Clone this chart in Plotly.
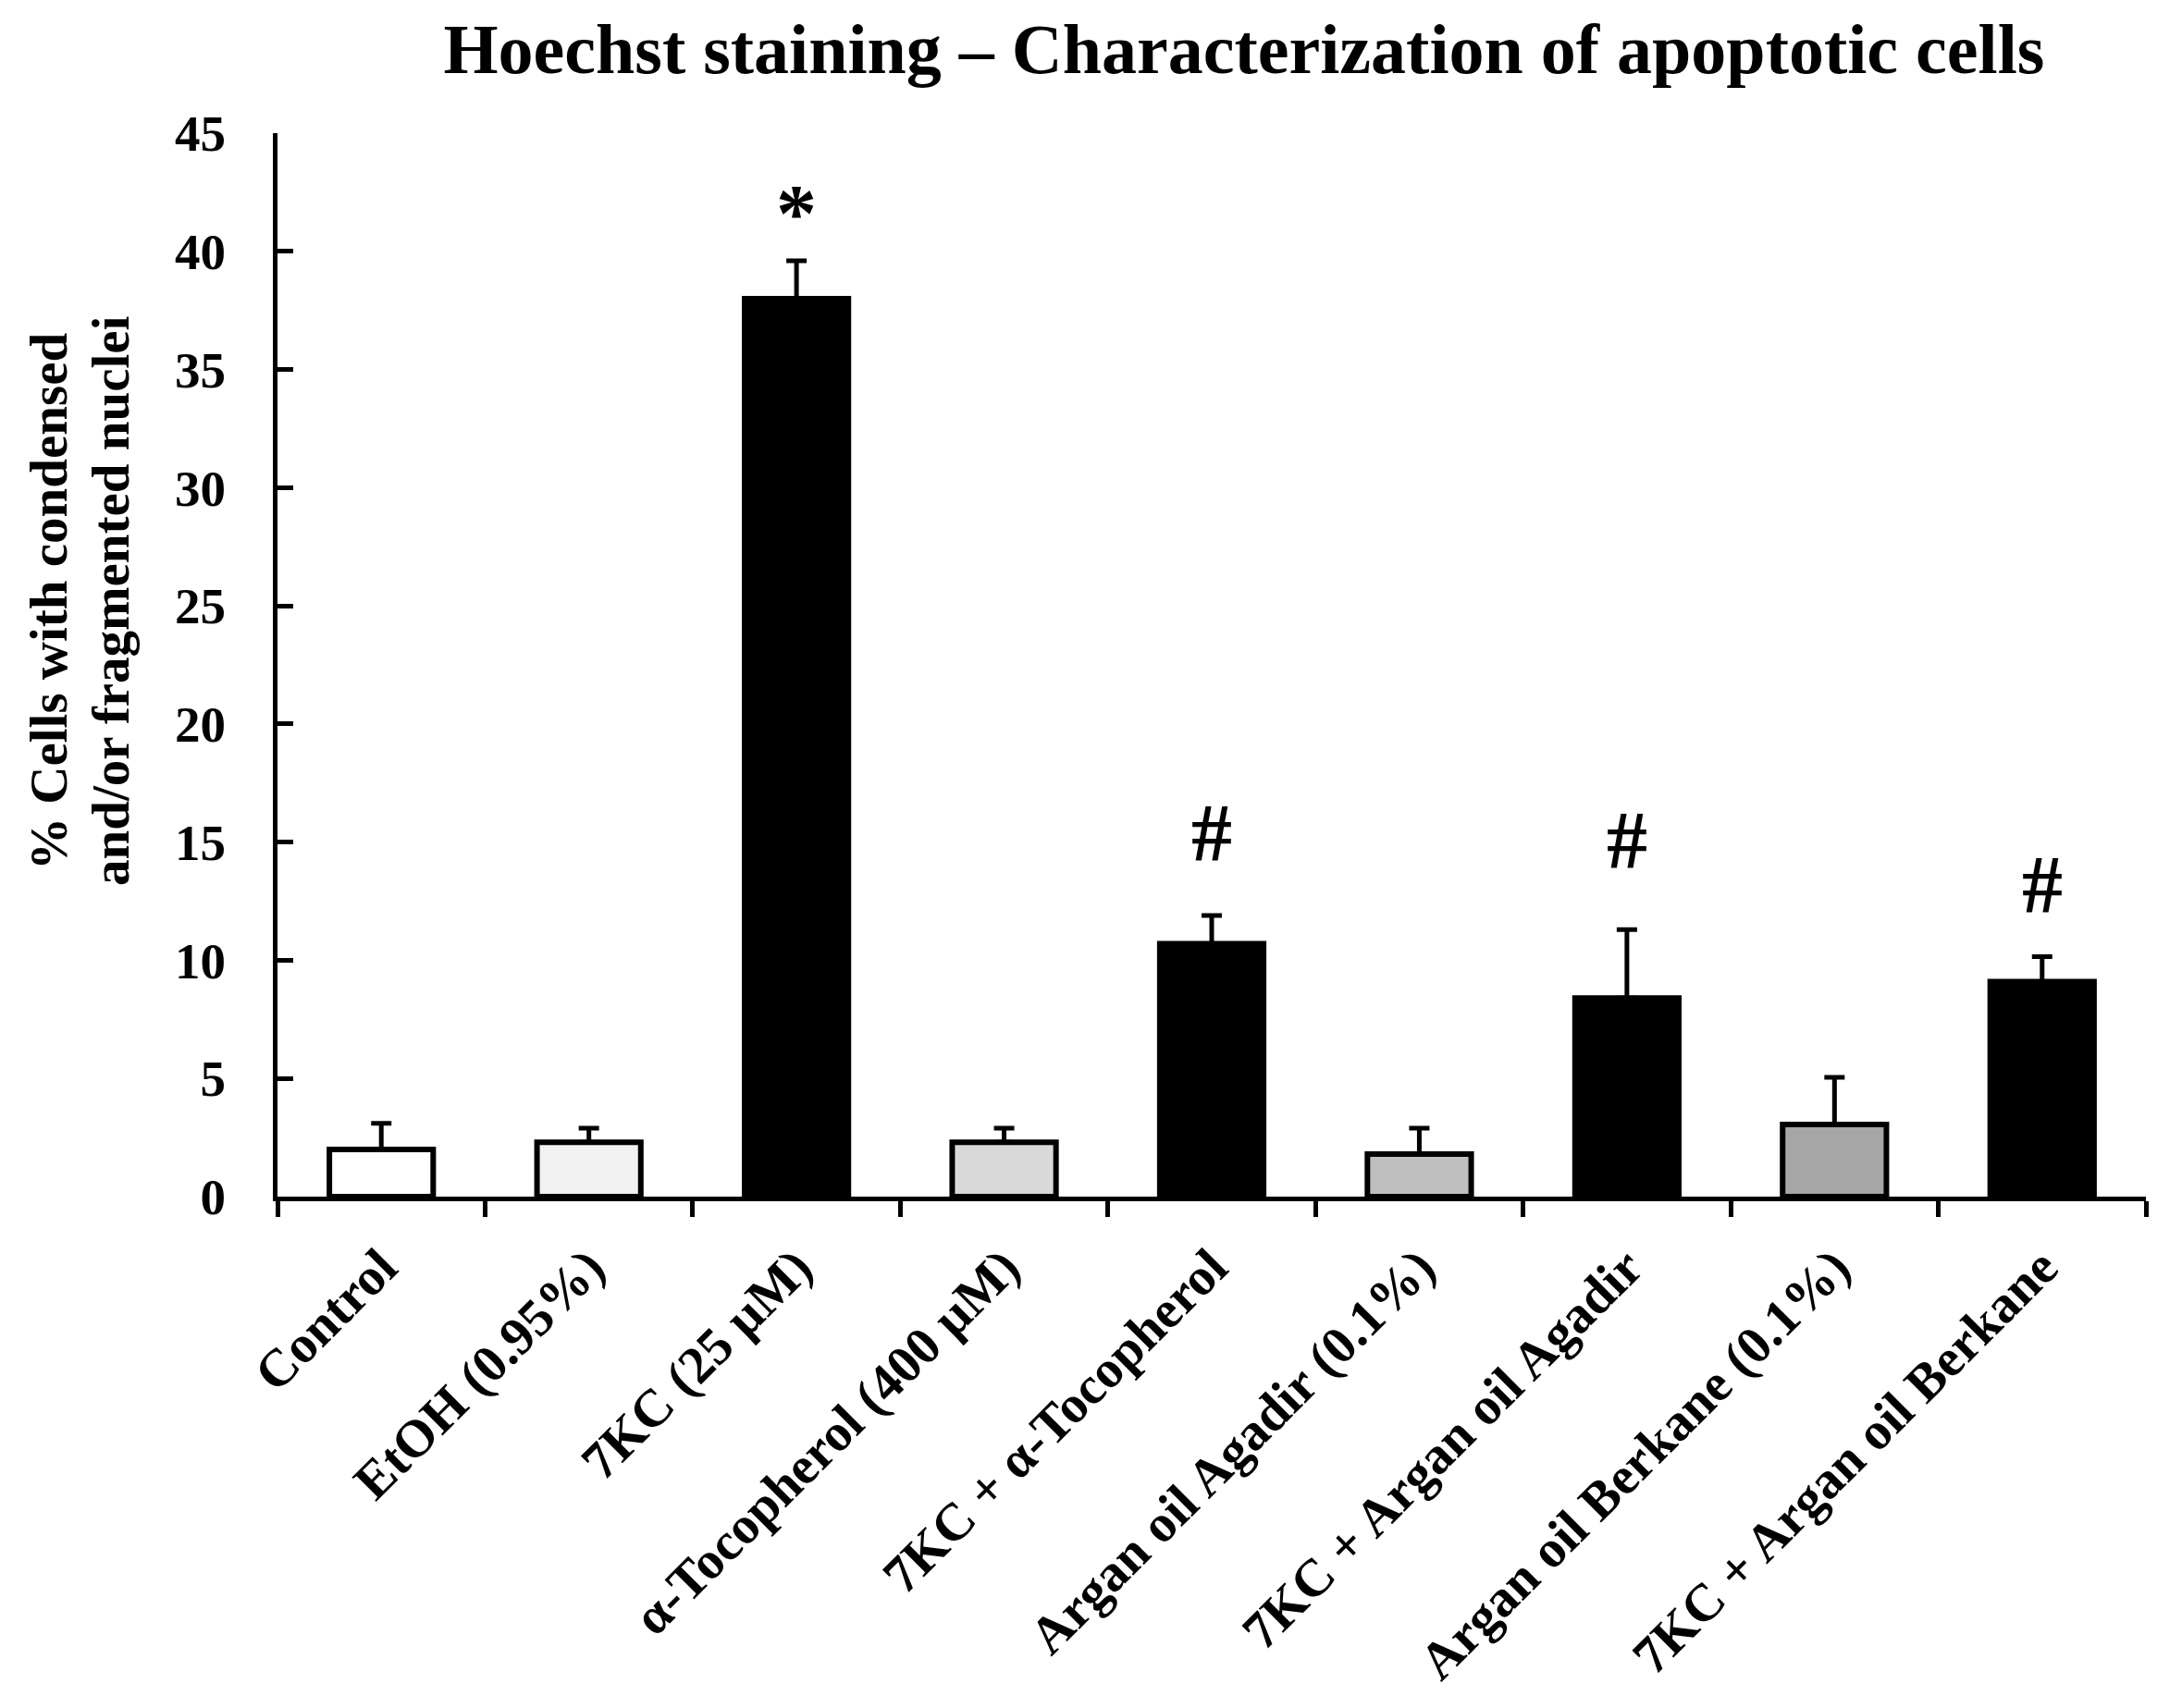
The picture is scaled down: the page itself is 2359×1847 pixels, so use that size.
import plotly.graph_objects as go

# treatments along the x axis
groups = ["Control", "EtOH (0.95%)", "7KC (25 µM)", "α-Tocopherol (400 µM)",
          "7KC + α-Tocopherol", "Argan oil Agadir (0.1%)", "7KC + Argan oil Agadir",
          "Argan oil Berkane (0.1%)", "7KC + Argan oil Berkane"]

# % cells with condensed and/or fragmented nuclei (mean, SD)
means = [2.0, 2.3, 38.0, 2.3, 10.7, 1.8, 8.4, 3.05, 9.1]
sds = [1.1, 0.6, 1.6, 0.6, 1.2, 1.1, 2.9, 2.0, 1.05]
bar_colors = ["#ffffff", "#f2f2f2", "#000000", "#d9d9d9", "#000000",
              "#bfbfbf", "#000000", "#a6a6a6", "#000000"]

# significance marks: (group, symbol, height)
marks = [("7KC (25 µM)", "*", 41.6),
         ("7KC + α-Tocopherol", "#", 15.4),
         ("7KC + Argan oil Agadir", "#", 15.1),
         ("7KC + Argan oil Berkane", "#", 13.2)]

ytitle_lines = ["% Cells with condensed", "and/or fragmented nuclei"]

FONT = "Liberation Serif, Times New Roman, serif"

fig = go.Figure()
fig.add_trace(go.Bar(
    x=groups, y=means,
    marker=dict(color=bar_colors, line=dict(color="black", width=6)),
    error_y=dict(type="data", array=sds, arrayminus=[0] * len(sds), symmetric=False,
                 color="black", thickness=5, width=11),
    showlegend=False))

for grp, sym, h in marks:
    fig.add_annotation(x=grp, y=h, text=sym, showarrow=False, xanchor="center", yanchor="middle",
                       font=dict(family=FONT, size=88, color="black", weight="bold"))

# y axis title: two lines placed separately (tighter line spacing than plotly's)
for xpos, line in zip([-0.1228, -0.0896], ytitle_lines):
    fig.add_annotation(xref="paper", yref="y", x=xpos, y=25.2, textangle=-90,
                       text=line, showarrow=False, xanchor="center", yanchor="middle",
                       font=dict(family=FONT, size=57, color="black", weight="bold"))

fig.update_layout(
    width=2359, height=1847,
    margin=dict(l=300, r=39, t=143.5, b=553),
    paper_bgcolor="white", plot_bgcolor="white",
    bargap=0.5,
    font=dict(family=FONT, size=55, color="black", weight="bold"),
    title=dict(text="Hoechst staining – Characterization of apoptotic cells",
               x=0.5173, xref="paper", xanchor="center",
               y=1 - 52.4 / 1847, yref="container", yanchor="middle",
               font=dict(family=FONT, size=76, color="black", weight="bold")),
)

fig.update_xaxes(showline=True, linecolor="black", linewidth=5,
                 ticks="outside", tickson="boundaries", ticklen=17, tickwidth=5, tickcolor="black",
                 tickangle=-45, ticklabelstandoff=15,
                 tickfont=dict(family=FONT, size=57, color="black", weight="bold"),
                 showgrid=False)
fig.update_yaxes(range=[0, 45], dtick=5, showline=True, linecolor="black", linewidth=5,
                 ticks="inside", ticklen=17, tickwidth=5, tickcolor="black",
                 ticklabelstandoff=40,
                 tickfont=dict(family=FONT, size=55, color="black", weight="bold"),
                 showgrid=False, zeroline=False)

# drop the browser's default body margin so the figure sits at the page corner
fig.write_html("out.html", config={"displayModeBar": False},
               post_script="document.body.style.margin='0px';")
